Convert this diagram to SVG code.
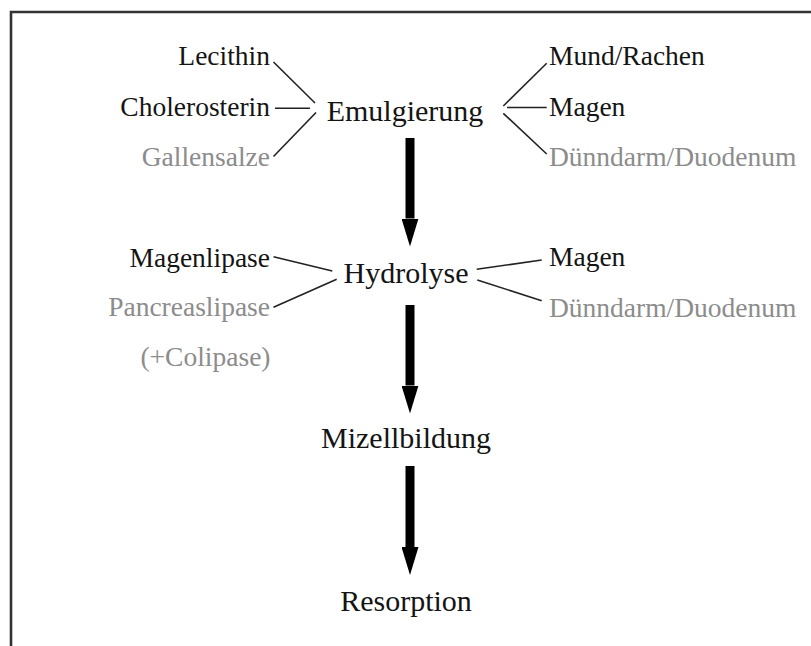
<svg xmlns="http://www.w3.org/2000/svg" width="811" height="646" viewBox="0 0 811 646">
<defs>
<style>
text{font-family:"Liberation Serif","Times New Roman",serif;fill:#141414}
.side{font-size:27.5px}
.main{font-size:30px;text-anchor:middle}
.l{text-anchor:end}
.g{fill:#8c8c8c}
.c{stroke:#222;stroke-width:1.6;fill:none}
.arr{stroke:#000;stroke-width:9;marker-end:url(#ah)}
</style>
<marker id="ah" markerUnits="userSpaceOnUse" markerWidth="28" markerHeight="17" refX="0" refY="8.5" orient="auto" viewBox="0 0 28 17">
<path d="M0,0 L28,8.5 L0,17 Z" fill="#000"/>
</marker>
</defs>
<rect width="811" height="646" fill="#fff"/>
<path d="M11,646 V12 H811" fill="none" stroke="#333" stroke-width="2.6"/>

<g id="emulgierung"><text class="main" x="405" y="121">Emulgierung</text></g>
<g id="hydrolyse"><text class="main" x="406" y="283">Hydrolyse</text></g>
<g id="mizellbildung"><text class="main" x="406" y="448">Mizellbildung</text></g>
<g id="resorption"><text class="main" x="406" y="611">Resorption</text></g>

<g id="lecithin"><text class="side l" x="270" y="65">Lecithin</text></g>
<g id="cholerosterin"><text class="side l" x="270" y="116">Cholerosterin</text></g>
<g id="gallensalze"><text class="side l g" x="270" y="165.5">Gallensalze</text></g>
<g id="mund"><text class="side" x="549" y="65">Mund/Rachen</text></g>
<g id="magen1"><text class="side" x="549" y="115.5">Magen</text></g>
<g id="duenndarm1"><text class="side g" x="549" y="165.5">Dünndarm/Duodenum</text></g>

<g id="magenlipase"><text class="side l" x="270" y="266.5">Magenlipase</text></g>
<g id="pancreaslipase"><text class="side l g" x="270" y="316">Pancreaslipase</text></g>
<g id="colipase"><text class="side l g" x="270.5" y="366">(+Colipase)</text></g>
<g id="magen2"><text class="side" x="549" y="266">Magen</text></g>
<g id="duenndarm2"><text class="side g" x="549" y="316.5">Dünndarm/Duodenum</text></g>

<g id="connectors">
<line class="c" x1="273.5" y1="62" x2="315" y2="103"/>
<line class="c" x1="275" y1="108.3" x2="310" y2="108.3"/>
<line class="c" x1="273.5" y1="156.5" x2="316" y2="112.5"/>
<line class="c" x1="546.7" y1="63.3" x2="503.3" y2="106"/>
<line class="c" x1="507" y1="107.5" x2="546.7" y2="107.5"/>
<line class="c" x1="503.3" y1="113.3" x2="546.7" y2="154"/>
<line class="c" x1="273.5" y1="256.7" x2="332.3" y2="271"/>
<line class="c" x1="273.5" y1="307.3" x2="336.7" y2="279.3"/>
<line class="c" x1="476.7" y1="269.3" x2="541.7" y2="260"/>
<line class="c" x1="477.3" y1="280" x2="541.7" y2="300.7"/>
<line class="arr" x1="410" y1="138" x2="410" y2="218.5"/>
<line class="arr" x1="410" y1="305" x2="410" y2="385.5"/>
<line class="arr" x1="410" y1="466" x2="410" y2="547"/>
</g>
</svg>
